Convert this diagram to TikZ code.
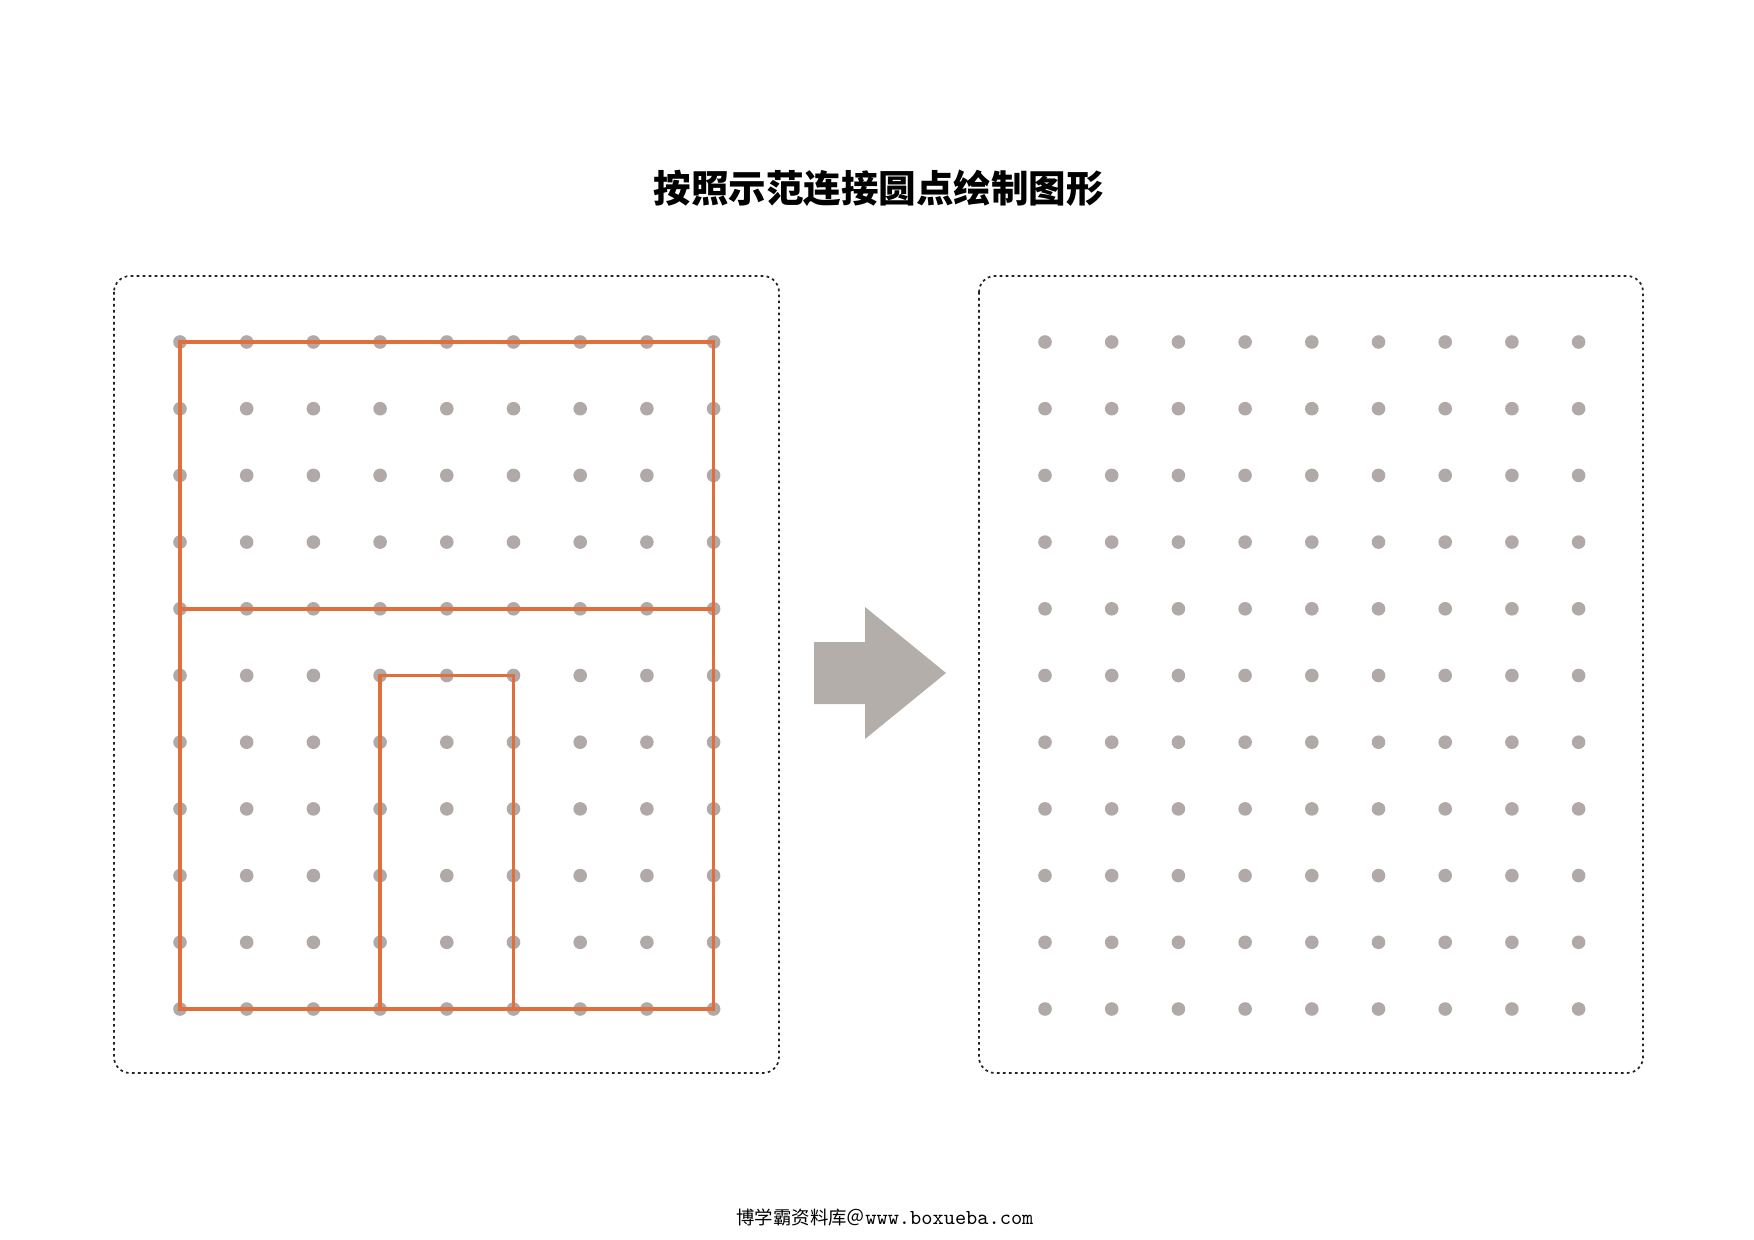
\documentclass[tikz,border=0pt]{standalone}
\usepackage{fontspec}
\newfontfamily\cjk{Noto Sans CJK SC}
\definecolor{dotc}{HTML}{B1A9A7}
\definecolor{arrowc}{HTML}{B4AEAB}
\definecolor{linec}{HTML}{DF6F3B}
\definecolor{framec}{HTML}{222222}
\tikzset{
  frame/.style={draw=framec, line width=0.85pt, dash pattern=on 1.35pt off 1.65pt, rounded corners=8pt},
  gdot/.style={fill=dotc},
  shapeline/.style={draw=linec, line width=1.75pt, line join=miter},
  bigarrow/.style={fill=arrowc},
  txt/.style={inner sep=0pt, anchor=base}
}
\begin{document}
\begin{tikzpicture}[x=0.5pt,y=-0.5pt]
\useasboundingbox (0,0) rectangle (1754,1240);
\fill[white] (0,0) rectangle (1754,1240);
% title
\node[txt, font=\cjk\bfseries\fontsize{18.75pt}{21pt}\selectfont] (title) at (878.5,203) {按照示范连接圆点绘制图形};
% frames
\draw[frame] (114,276) rectangle (779,1073);
\draw[frame] (979,276) rectangle (1643,1073);
% dot grids
\foreach \i in {0,...,8}{
  \foreach \j in {0,...,10}{
    \coordinate (L-\i-\j) at ({180+66.7*\i},{342+66.7*\j});
    \coordinate (R-\i-\j) at ({1045+66.7*\i},{342+66.7*\j});
    \fill[gdot] (L-\i-\j) circle[radius=3.4pt];
    \fill[gdot] (R-\i-\j) circle[radius=3.4pt];
  }
}
% example figure
\draw[shapeline] (L-0-0) rectangle (L-8-10);
\draw[shapeline] (L-0-4) -- (L-8-4);
\draw[shapeline] (L-3-10) -- (L-3-5) -- (L-5-5) -- (L-5-10);
% arrow
\fill[bigarrow] (814,642) -- (865,642) -- (865,607) -- (946,673) -- (865,739) -- (865,704) -- (814,704) -- cycle;
% footer
\node[txt] (footer) at (885,1224) {{\cjk\fontsize{9.2pt}{11pt}\selectfont 博学霸资料库＠}{\ttfamily\fontsize{10.67pt}{12pt}\selectfont www.boxueba.com}};
\end{tikzpicture}
\end{document}
